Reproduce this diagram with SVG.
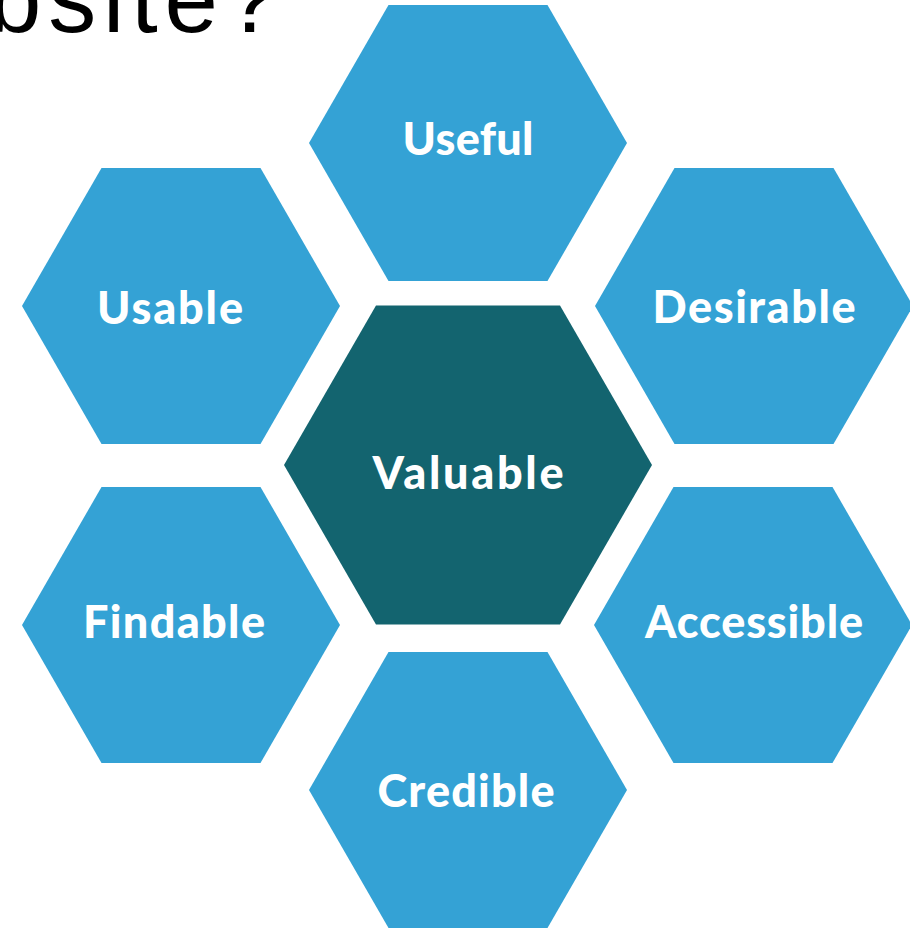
<svg xmlns="http://www.w3.org/2000/svg" width="910" height="928" viewBox="0 0 910 928">
<style>
.hex{fill:#34A2D5}
.core{fill:#13646F}
.lbl{font-family:Lato,"Open Sans","Liberation Sans",sans-serif;font-weight:900;font-size:45px;fill:#FFFFFF;text-anchor:middle}
.title{font-family:"Liberation Sans",Arial,sans-serif;font-size:96px;fill:#000000}
</style>
<rect x="0" y="0" width="910" height="928" fill="#FFFFFF"/>
<text class="title" x="-12" y="32" textLength="290" lengthAdjust="spacing">bsite?</text>
<g id="useful">
<polygon class="hex" points="309,143 388.5,5 547.5,5 627,143 547.5,281 388.5,281"/>
<text class="lbl" x="468" y="155" textLength="131" lengthAdjust="spacing">Useful</text>
</g>
<g id="usable">
<polygon class="hex" points="22,306 101.5,168 260.5,168 340,306 260.5,444 101.5,444"/>
<text class="lbl" x="170" y="324" textLength="146" lengthAdjust="spacing">Usable</text>
</g>
<g id="desirable">
<polygon class="hex" points="595,306 674.5,168 833.5,168 913,306 833.5,444 674.5,444"/>
<text class="lbl" x="754" y="323" textLength="203" lengthAdjust="spacing">Desirable</text>
</g>
<g id="valuable">
<polygon class="core" points="284,465 376,305.5 560,305.5 652,465 560,624.5 376,624.5"/>
<text class="lbl" x="468" y="489" textLength="191" lengthAdjust="spacing">Valuable</text>
</g>
<g id="findable">
<polygon class="hex" points="22,625 101.5,487 260.5,487 340,625 260.5,763 101.5,763"/>
<text class="lbl" x="174" y="638" textLength="182" lengthAdjust="spacing">Findable</text>
</g>
<g id="accessible">
<polygon class="hex" points="594,625 673.5,487 832.5,487 912,625 832.5,763 673.5,763"/>
<text class="lbl" x="754" y="638" textLength="218" lengthAdjust="spacing">Accessible</text>
</g>
<g id="credible">
<polygon class="hex" points="309,790 388.5,652 547.5,652 627,790 547.5,928 388.5,928"/>
<text class="lbl" x="466" y="807" textLength="177" lengthAdjust="spacing">Credible</text>
</g>
</svg>
